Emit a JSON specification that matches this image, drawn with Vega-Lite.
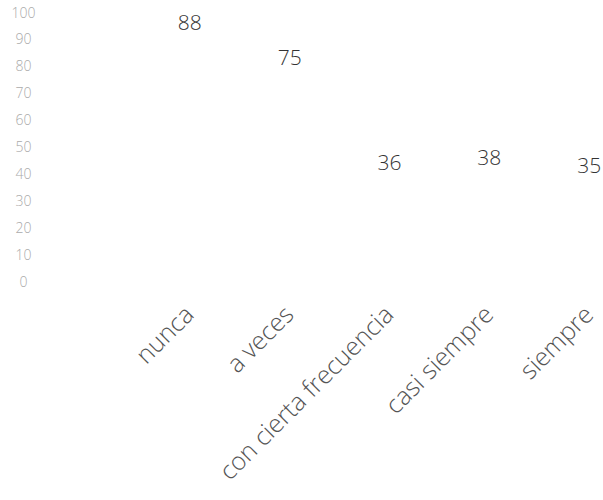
{
  "$schema": "https://vega.github.io/schema/vega-lite/v6.json",
  "autosize": "none",
  "padding": {"left": 40, "top": 13, "right": 0, "bottom": 218},
  "width": 699,
  "height": 269,
  "background": "white",
  "config": {"view": {"stroke": null}, "font": "Open Sans"},
  "data": {"values": [
    {"categoria": "nunca", "valor": 88},
    {"categoria": "a veces", "valor": 75},
    {"categoria": "con cierta frecuencia", "valor": 36},
    {"categoria": "casi siempre", "valor": 38},
    {"categoria": "siempre", "valor": 35}
  ]},
  "mark": {"type": "text", "fontSize": 21, "font": "Open Sans", "fontWeight": 300, "color": "#333333", "baseline": "middle", "dy": -21},
  "encoding": {
    "x": {
      "field": "categoria", "type": "nominal", "sort": null,
      "scale": {"type": "band", "paddingInner": 0, "paddingOuter": 1.022},
      "axis": {"title": null, "domain": false, "ticks": false, "tickSize": 0, "grid": false,
        "labelAngle": -45, "labelAlign": "right", "labelBaseline": "middle", "labelPadding": 28,
        "labelFont": "Open Sans", "labelFontWeight": 300, "labelFontSize": 25, "labelColor": "#555555", "labelLimit": 400}
    },
    "y": {
      "field": "valor", "type": "quantitative",
      "scale": {"domain": [0, 100], "nice": false},
      "axis": {"title": null, "domain": false, "ticks": false, "tickSize": 0, "grid": false,
        "values": [0, 10, 20, 30, 40, 50, 60, 70, 80, 90, 100],
        "labelAlign": "center", "labelPadding": 17, "labelFont": "Open Sans", "labelFontWeight": 300,
        "labelFontSize": 14, "labelColor": "#aaaaaa"}
    },
    "text": {"field": "valor", "type": "quantitative"}
  }
}
